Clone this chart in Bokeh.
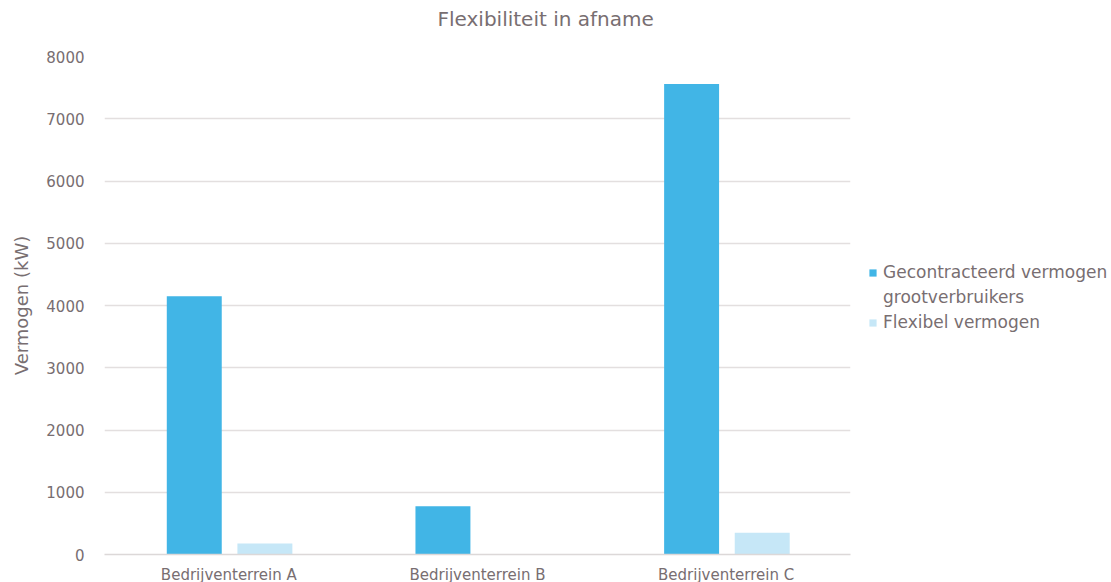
from bokeh.plotting import figure
from bokeh.models import ColumnDataSource, FactorRange, Range1d, Legend, LegendItem, SingleIntervalTicker
from bokeh.transform import dodge
from bokeh.embed import file_html
from bokeh.resources import INLINE

categories = ["Bedrijventerrein A", "Bedrijventerrein B", "Bedrijventerrein C"]
gecontracteerd = [4150, 775, 7560]
flexibel = [175, 0, 350]
legend_lines = ["Gecontracteerd vermogen", "grootverbruikers", "Flexibel vermogen"]
title_text = "Flexibiliteit in afname"

TEXT = "#786e71"
FONT = "DejaVu Sans"

src = ColumnDataSource(dict(cat=categories, g=gecontracteerd, f=flexibel))

p = figure(frame_width=746, frame_height=498, x_range=FactorRange(*categories, range_padding=0),
           y_range=Range1d(0, 8000), output_backend="svg", toolbar_location=None,
           min_border_left=104, min_border_right=0, min_border_top=56, min_border_bottom=0,
           title=title_text)

r1 = p.vbar(x=dodge("cat", -0.139, range=p.x_range), top="g", width=0.221, source=src,
            color="#41b5e6", line_color=None)
r2 = p.vbar(x=dodge("cat", 0.145, range=p.x_range), top="f", width=0.221, source=src,
            color="#c6e7f7", line_color=None)
# invisible renderer used only for the wrapped second legend line
r_blank = p.vbar(x=[], top=[], width=0.1, fill_alpha=0, line_alpha=0)

p.title.align = "left"
p.title.offset = 333
p.title.standoff = 0
p.title.padding = dict(left=0, right=0, top=0, bottom=26)
p.title.text_font = FONT
p.title.text_font_size = "20px"
p.title.text_font_style = "normal"
p.title.text_color = TEXT

p.outline_line_color = None
p.background_fill_color = "white"
p.border_fill_color = "white"

p.xgrid.grid_line_color = None
p.ygrid.grid_line_color = "#e3dfdf"
p.ygrid.grid_line_width = 1.3
p.yaxis.ticker = SingleIntervalTicker(interval=1000)

for ax in (p.xaxis[0], p.yaxis[0]):
    ax.axis_line_color = None
    ax.major_tick_line_color = None
    ax.minor_tick_line_color = None
    ax.major_label_text_font = FONT
    ax.major_label_text_font_size = "15px"
    ax.major_label_text_color = TEXT

p.xaxis.major_label_standoff = 5
p.yaxis.major_label_standoff = 14
p.xaxis.axis_line_color = "#dcd8d8"
p.xaxis.axis_line_width = 1.5

p.yaxis.axis_label = "Vermogen (kW)"
p.yaxis.axis_label_text_font = FONT
p.yaxis.axis_label_text_font_size = "18px"
p.yaxis.axis_label_text_font_style = "normal"
p.yaxis.axis_label_text_color = TEXT
p.yaxis.axis_label_standoff = 11

legend = Legend(items=[LegendItem(label=legend_lines[0], renderers=[r1]),
                       LegendItem(label=legend_lines[1], renderers=[r_blank]),
                       LegendItem(label=legend_lines[2], renderers=[r2])],
                location=(18, 222))
legend.label_text_font = FONT
legend.label_text_font_size = "17px"
legend.label_text_color = TEXT
legend.label_height = 18
legend.glyph_width = 9
legend.glyph_height = 9
legend.label_standoff = 6
legend.spacing = 5
legend.padding = 0
legend.margin = 0
legend.border_line_color = None
legend.background_fill_alpha = 0
p.add_layout(legend, "right")

open("out.html", "w").write(file_html(p, INLINE))
